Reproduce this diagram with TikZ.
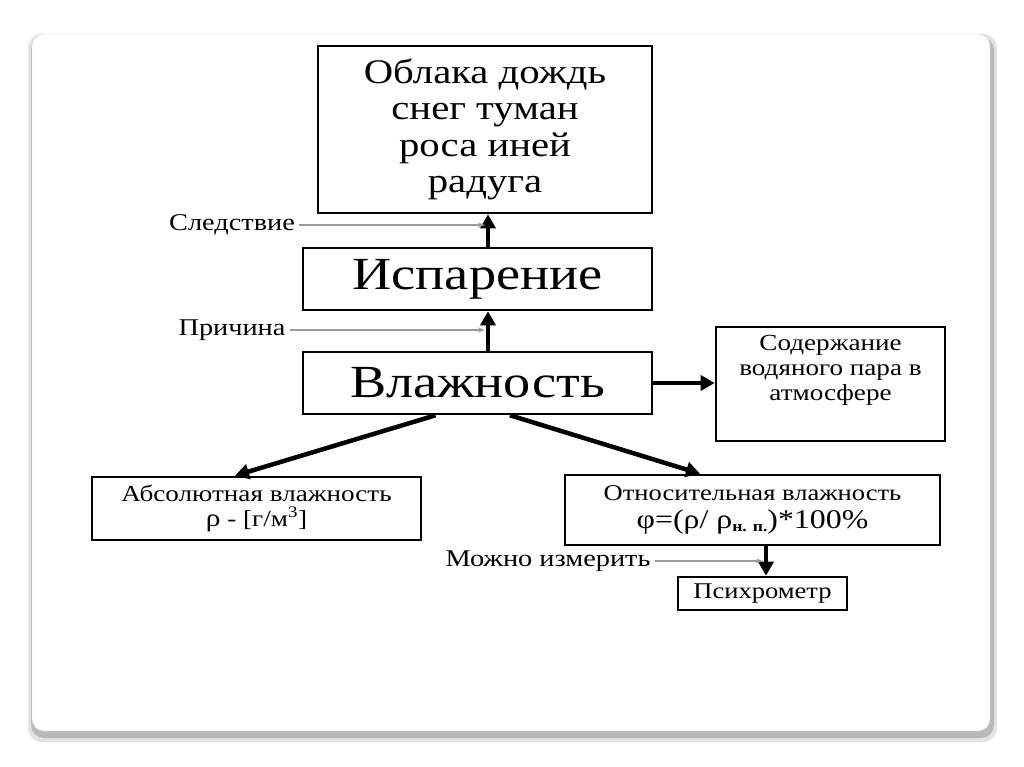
\documentclass[tikz,border=0pt]{standalone}
\usepackage{fontspec}
\setmainfont[FakeStretch=1.18]{Liberation Serif}
\usetikzlibrary{positioning,arrows.meta}
\tikzstyle{slide} = [x=1pt, y=-1pt]
\definecolor{noteGray}{RGB}{155,155,155}
\definecolor{shadowGray}{RGB}{185,185,185}
\tikzstyle{boxStyle} = [draw=black, line width=2.6pt, fill=white, inner sep=0pt, align=center]
\tikzstyle{mainArrow} = [-{Triangle[length=14pt,width=15pt]}, line width=4.5pt]
\tikzstyle{noteArrow} = [-{Stealth[length=7pt,width=5pt]}, color=noteGray, line width=1.2pt, shorten >=3pt]
\tikzstyle{noteText} = [font=\fontsize{24}{26}\selectfont, inner sep=4pt]
\tikzstyle{bigText} = [font=\fontsize{46}{50}\selectfont]
\tikzstyle{midText} = [font=\fontsize{23}{25}\selectfont]
\newcommand{\sizeText}[2]{{\fontsize{#1}{#1}\selectfont #2}}

\begin{document}
\begin{tikzpicture}[slide]
  \useasboundingbox (0,0) rectangle (1024,767);
  % slide frame with shadow
  \fill [shadowGray!40, rounded corners=14pt] (28,34) rectangle (997,742);
  \fill [shadowGray, rounded corners=13pt] (31,37) rectangle (994,738);
  \filldraw [fill=white, draw=shadowGray!60, rounded corners=12pt] (32,34) rectangle (990,731);

  % boxes
  \node [boxStyle, minimum width=334pt, minimum height=167pt,
    font=\fontsize{34.5}{36.5}\selectfont] (rain) at (485,129.5)
    {Облака дождь\\снег туман\\роса иней\\радуга};
  \node [boxStyle, bigText, minimum width=349pt, minimum height=62pt] (isp) at (477.5,279) {Испарение};
  \node [boxStyle, bigText, minimum width=349pt, minimum height=62pt] (vlazh) at (477.5,383) {Влажность};
  \node [boxStyle, minimum width=229pt, minimum height=114pt] (soder) at (830.5,384) {};
  \node [midText, align=center, below=6pt of soder.north] (soderText)
    {Содержание\\водяного пара в\\атмосфере};
  \node [boxStyle, midText, minimum width=329pt, minimum height=63pt] (abs) at (256.5,508.5)
    {Абсолютная влажность\\[0pt] \sizeText{25}{ρ} - [г/м\textsuperscript{3}]};
  \node [boxStyle, minimum width=375pt, minimum height=70pt] (otn) at (752.5,510)
    {\sizeText{22.5}{Относительная влажность}\\[8pt]
     \sizeText{27}{φ=(ρ/ ρ\raisebox{-3pt}{\sizeText{15}{\bfseries н. п.}})*100\%}};
  \node [boxStyle, minimum width=169pt, minimum height=33pt,
    font=\fontsize{22.5}{24}\selectfont] (psych) at (762.5,593.5) {Психрометр};

  % main arrows
  \draw [mainArrow] ([xshift=10.5pt]isp.north) -- coordinate[pos=0.6] (effectPt)
    ([xshift=10.5pt]isp.north |- rain.south);
  \draw [mainArrow] ([xshift=10.5pt]vlazh.north) -- coordinate[pos=0.48] (causePt)
    ([xshift=10.5pt]vlazh.north |- isp.south);
  \draw [mainArrow] (vlazh.east) -- (vlazh.east -| soder.west);
  \draw [mainArrow] ([xshift=-42pt]vlazh.south) -- ([xshift=-21.5pt]abs.north);
  \draw [mainArrow] ([xshift=32.5pt]vlazh.south) -- ([xshift=-52.5pt]otn.north);
  \draw [mainArrow] ([xshift=13.5pt]otn.south) -- coordinate[pos=0.55] (measurePt)
    ([xshift=13.5pt]otn.south |- psych.north);

  % notes
  \node [noteText] (effectLbl) at (232,225) {Следствие};
  \node [noteText] (causeLbl) at (232,330) {Причина};
  \node [noteText] (measureLbl) at (548,561) {Можно измерить};
  \draw [noteArrow] (effectLbl) -- (effectLbl -| effectPt);
  \draw [noteArrow] (causeLbl) -- (causeLbl -| causePt);
  \draw [noteArrow] (measureLbl) -- (measureLbl -| measurePt);
\end{tikzpicture}
\end{document}
